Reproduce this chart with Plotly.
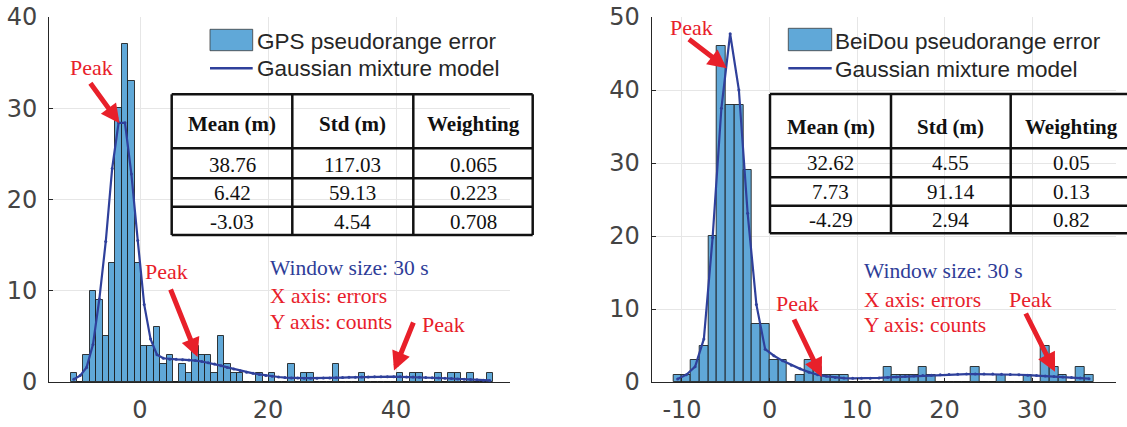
import numpy as np
import plotly.graph_objects as go

W, H = 1127, 427


def px(x):
    return x / W


def py(y):
    return 1 - y / H


# ---------------- data ----------------
bin_width = 1.0
gps_bin_start = -10.85
bds_bin_start = -11.0

gps_counts = [1, 0, 3, 10, 9, 5, 13, 30, 37, 33,
              13, 4, 4, 6, 2, 3, 0, 2, 1, 4,
              3, 3, 1, 5, 2, 1, 1, 0, 0, 1,
              0, 1, 0, 0, 2, 0, 1, 1, 0, 0,
              0, 2, 0, 0, 0, 1, 0, 0, 0, 0,
              0, 1, 0, 1, 1, 0, 0, 1, 0, 1,
              1, 0, 1, 0, 0, 1]
gps_fit = [0.30, 0.70, 1.6, 4.1, 9.1, 15.4, 23.4, 28.4, 28.4, 22.8,
           15.5, 8.5, 4.7, 3.0, 2.6, 2.5, 2.48, 2.45, 2.42, 2.35,
           2.25, 2.12, 1.96, 1.79, 1.60, 1.42, 1.24, 1.07, 0.95, 0.83,
           0.72, 0.63, 0.55, 0.49, 0.45, 0.43, 0.42, 0.42, 0.42, 0.43,
           0.45, 0.47, 0.49, 0.51, 0.53, 0.55, 0.56, 0.57, 0.58, 0.58,
           0.58, 0.57, 0.56, 0.54, 0.52, 0.50, 0.47, 0.44, 0.41, 0.38,
           0.34, 0.31, 0.27, 0.24, 0.20, 0.17]

bds_counts = [1, 1, 3, 5, 20, 46, 38, 38, 29, 8,
              8, 3, 3, 0, 1, 3, 2, 1, 1, 1,
              0, 0, 0, 0, 2, 1, 1, 1, 2, 1,
              0, 0, 0, 0, 2, 0, 0, 1, 0, 0,
              1, 0, 5, 2, 1, 0, 2, 1]
bds_fit = [0.4, 1.0, 2.1, 5.9, 19.8, 37.5, 47.7, 40.0, 23.1, 10.6,
           4.5, 3.6, 2.9, 2.3, 1.8, 1.35, 1.0, 0.78, 0.62, 0.54,
           0.5, 0.5, 0.52, 0.56, 0.62, 0.68, 0.75, 0.82, 0.88, 0.94,
           0.99, 1.03, 1.06, 1.08, 1.09, 1.09, 1.08, 1.06, 1.03, 0.99,
           0.94, 0.88, 0.82, 0.76, 0.69, 0.62, 0.54, 0.46]

table_header = ["Mean (m)", "Std (m)", "Weighting"]
gps_means = ["38.76", "6.42", "-3.03"]
gps_stds = ["117.03", "59.13", "4.54"]
gps_weights = ["0.065", "0.223", "0.708"]
bds_means = ["32.62", "7.73", "-4.29"]
bds_stds = ["4.55", "91.14", "2.94"]
bds_weights = ["0.05", "0.13", "0.82"]

gps_xticks = [0, 20, 40]
bds_xticks = [-10, 0, 10, 20, 30]
gps_yticks = [0, 10, 20, 30, 40]
bds_yticks = [0, 10, 20, 30, 40, 50]
gps_xrange = [-14.22, 57.81]
bds_xrange = [-13.46, 39.58]
gps_yrange = [0, 40]
bds_yrange = [0, 50]

gps_legend = ["GPS pseudorange error", "Gaussian mixture model"]
bds_legend = ["BeiDou pseudorange error", "Gaussian mixture model"]
info_lines = ["Window size: 30 s", "X axis: errors", "Y axis: counts"]
peak_label = "Peak"

# ---------------- styles ----------------
BAR_COLOR = "rgb(96,168,216)"
BAR_EDGE = "rgba(25,25,25,0.85)"
LINE_COLOR = "#2F409B"
RED = "#E8202A"
BLUE_TXT = "#2E3D98"
TICK_COLOR = "#444444"
AX_COLOR = "#262626"
GRID = "#E6E6E6"

gps_centers = gps_bin_start + bin_width * (np.arange(len(gps_counts)) + 0.5)
bds_centers = bds_bin_start + bin_width * (np.arange(len(bds_counts)) + 0.5)

fig = go.Figure()
fig.add_trace(go.Bar(x=gps_centers, y=gps_counts, width=bin_width,
                     marker=dict(color=BAR_COLOR, line=dict(color=BAR_EDGE, width=1)),
                     xaxis="x", yaxis="y", name=gps_legend[0]))
fig.add_trace(go.Scatter(x=gps_centers, y=gps_fit, mode="lines+markers",
                         line=dict(color=LINE_COLOR, width=2.2),
                         marker=dict(size=3, color=LINE_COLOR),
                         xaxis="x", yaxis="y", name=gps_legend[1]))
fig.add_trace(go.Bar(x=bds_centers, y=bds_counts, width=bin_width,
                     marker=dict(color=BAR_COLOR, line=dict(color=BAR_EDGE, width=1)),
                     xaxis="x2", yaxis="y2", name=bds_legend[0]))
fig.add_trace(go.Scatter(x=bds_centers, y=bds_fit, mode="lines+markers",
                         line=dict(color=LINE_COLOR, width=2.2),
                         marker=dict(size=3, color=LINE_COLOR),
                         xaxis="x2", yaxis="y2", name=bds_legend[1]))

tickfont = dict(family="DejaVu Sans", size=24, color=TICK_COLOR)


def xax(domain, rng, ticks, anchor):
    return dict(domain=domain, range=rng, anchor=anchor, automargin=False,
                tickvals=ticks, ticktext=[str(t) for t in ticks],
                showline=True, linecolor=AX_COLOR, linewidth=1,
                ticks="inside", ticklen=4, tickcolor=AX_COLOR,
                showgrid=True, gridcolor=GRID, gridwidth=1, zeroline=False,
                tickfont=tickfont, ticklabelstandoff=6, fixedrange=True)


def yax(domain, rng, ticks, anchor):
    return dict(domain=domain, range=rng, anchor=anchor, automargin=False,
                tickvals=ticks, ticktext=[str(t) for t in ticks],
                showline=True, linecolor=AX_COLOR, linewidth=1,
                ticks="inside", ticklen=4, tickcolor=AX_COLOR,
                showgrid=True, gridcolor=GRID, gridwidth=1, zeroline=False,
                tickfont=tickfont, ticklabelstandoff=6, fixedrange=True)


ydom = [py(382), py(17)]
shapes = []
annotations = []


def hline(x0, x1, y, w=2.5, color="#111111"):
    shapes.append(dict(type="line", xref="paper", yref="paper",
                       x0=px(x0), x1=px(x1), y0=py(y), y1=py(y),
                       line=dict(color=color, width=w)))


def vline(x, y0, y1, w=2.5, color="#111111"):
    shapes.append(dict(type="line", xref="paper", yref="paper",
                       x0=px(x), x1=px(x), y0=py(y0), y1=py(y1),
                       line=dict(color=color, width=w)))


def text(x, y, s, size, color, family, xanchor="center", bold=False):
    if bold:
        s = "<b>" + s + "</b>"
    annotations.append(dict(x=px(x), y=py(y), xref="paper", yref="paper",
                            text=s, showarrow=False, xanchor=xanchor,
                            yanchor="middle",
                            font=dict(family=family, size=size, color=color)))


def arrow(tail, tip):
    annotations.append(dict(x=px(tip[0]), y=py(tip[1]), xref="paper", yref="paper",
                            ax=tail[0] - tip[0], ay=tail[1] - tip[1],
                            axref="pixel", ayref="pixel", text="",
                            showarrow=True, arrowhead=2, arrowsize=0.75,
                            arrowwidth=5, arrowcolor=RED, standoff=0))


def table(xs, ys, header_y, row_ys, cols):
    for y in ys:
        hline(xs[0], xs[-1], y)
    for x in xs:
        vline(x, ys[0], ys[-1])
    centers = [(xs[i] + xs[i + 1]) / 2 for i in range(3)]
    for c, h in zip(centers, table_header):
        text(c, header_y, h, 21, "#111111", "Liberation Serif", bold=True)
    for ci, col in enumerate(cols):
        for ri, v in enumerate(col):
            text(centers[ci], row_ys[ri], v, 21, "#111111", "Liberation Serif")


def legend(x0, x1, patch_y0, patch_y1, line_y, text_x, text_ys, labels):
    shapes.append(dict(type="rect", xref="paper", yref="paper",
                       x0=px(x0), x1=px(x1), y0=py(patch_y1), y1=py(patch_y0),
                       fillcolor=BAR_COLOR, line=dict(color="rgba(60,60,60,0.8)", width=1)))
    shapes.append(dict(type="line", xref="paper", yref="paper",
                       x0=px(x0), x1=px(x1), y0=py(line_y), y1=py(line_y),
                       line=dict(color=LINE_COLOR, width=2.5)))
    for ty, lab in zip(text_ys, labels):
        text(text_x, ty, lab, 22.5, "#262626", "Liberation Sans", xanchor="left")


# ----- left panel decorations -----
legend(210, 252.7, 29.3, 50.7, 68.3, 254.5, [41, 69], gps_legend)
table([171.7, 292.3, 413.3, 532.7], [94.3, 148.3, 178.3, 206.7, 235],
      124, [165, 193.3, 221.7], [gps_means, gps_stds, gps_weights])
text(91, 68, peak_label, 22, RED, "Liberation Serif")
text(166.3, 271, peak_label, 22, RED, "Liberation Serif")
text(443.3, 324.5, peak_label, 22, RED, "Liberation Serif")
arrow((89.3, 81.7), (119.5, 123.3))
arrow((170, 288), (197.5, 357))
arrow((414, 321), (394, 370.5))
text(267.5, 268, info_lines[0], 21.5, BLUE_TXT, "Liberation Serif", xanchor="left")
text(267.5, 295.5, info_lines[1], 21.5, RED, "Liberation Serif", xanchor="left")
text(267.5, 321.5, info_lines[2], 21.5, RED, "Liberation Serif", xanchor="left")

# ----- right panel decorations -----
legend(788.3, 831.7, 28.3, 50.7, 68.3, 833, [41.5, 69.5], bds_legend)
table([770, 891, 1010.7, 1132], [94, 148.3, 177.3, 205.7, 233.3],
      126.5, [163.3, 191.7, 220], [bds_means, bds_stds, bds_weights])
text(691.7, 28, peak_label, 22, RED, "Liberation Serif")
text(797.5, 303.5, peak_label, 22, RED, "Liberation Serif")
text(1030.3, 299.5, peak_label, 22, RED, "Liberation Serif")
arrow((687.5, 38), (726.7, 68.3))
arrow((793.3, 318), (821.7, 377))
arrow((1025, 312), (1055, 371.7))
text(862, 271, info_lines[0], 21.5, BLUE_TXT, "Liberation Serif", xanchor="left")
text(862, 299.5, info_lines[1], 21.5, RED, "Liberation Serif", xanchor="left")
text(862, 325, info_lines[2], 21.5, RED, "Liberation Serif", xanchor="left")

fig.update_layout(
    width=W, height=H,
    margin=dict(l=0, r=0, t=0, b=0, pad=0, autoexpand=False),
    paper_bgcolor="white", plot_bgcolor="white",
    showlegend=False,
    bargap=0,
    xaxis=xax([px(49), px(510)], gps_xrange, gps_xticks, "y"),
    yaxis=yax(ydom, gps_yrange, gps_yticks, "x"),
    xaxis2=xax([px(651.7), px(1116)], bds_xrange, bds_xticks, "y2"),
    yaxis2=yax(ydom, bds_yrange, bds_yticks, "x2"),
    shapes=shapes,
    annotations=annotations,
)

fig.write_html("out.html", config={"displayModeBar": False},
               post_script="document.body.style.margin='0';document.body.style.overflow='hidden';")
